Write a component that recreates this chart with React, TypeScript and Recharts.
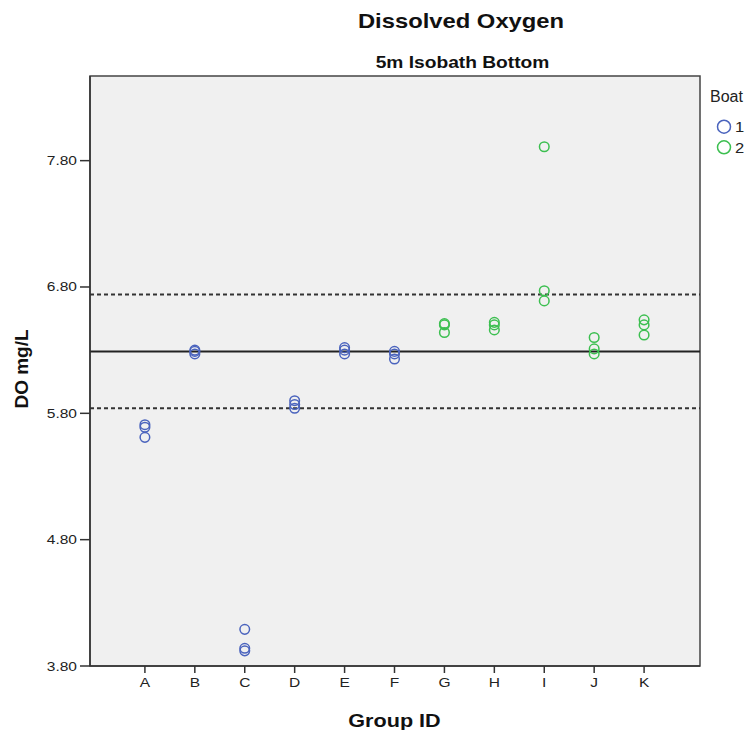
import React from "react";
import { ScatterChart, Scatter, XAxis, YAxis, ReferenceArea, ReferenceLine } from "recharts";

const groups = ["A", "B", "C", "D", "E", "F", "G", "H", "I", "J", "K"];
const boat1Groups = ["A", "B", "C", "D", "E", "F"];
const boat1Values = [
  [5.71, 5.69, 5.61],
  [6.3, 6.29, 6.27],
  [4.09, 3.94, 3.92],
  [5.9, 5.87, 5.84],
  [6.32, 6.3, 6.27],
  [6.29, 6.27, 6.23],
];
const boat2Groups = ["G", "H", "I", "J", "K"];
const boat2Values = [
  [6.51, 6.5, 6.44],
  [6.52, 6.5, 6.46],
  [7.91, 6.77, 6.69],
  [6.4, 6.31, 6.27],
  [6.54, 6.5, 6.42],
];
const yTicks = [3.8, 4.8, 5.8, 6.8, 7.8];
const meanLine = 6.29;
const upperLine = 6.74;
const lowerLine = 5.84;
const legendLabels = ["1", "2"];

const BLUE = "#4a63bd";
const GREEN = "#3cbf50";
const FONT = "'Liberation Sans', Arial, sans-serif";

function toPoints(gs: string[], vals: number[][]) {
  const out: { x: number; y: number }[] = [];
  gs.forEach((g, i) => {
    vals[i].forEach((v) => out.push({ x: groups.indexOf(g), y: v }));
  });
  return out;
}
const boat1 = toPoints(boat1Groups, boat1Values);
const boat2 = toPoints(boat2Groups, boat2Values);

const makeShape = (color: string) => (props: any) => (
  <circle cx={props.cx} cy={props.cy} r={4.8} fill="none" stroke={color} strokeWidth={1.5} />
);

const XTick = (props: any) => {
  const { x, y, payload } = props;
  return (
    <text transform={`translate(${x},${y + 12}) scale(1.15,1)`} textAnchor="middle" fontFamily={FONT} fontSize={13.5} fill="#222">
      {groups[payload.value]}
    </text>
  );
};
const YTick = (props: any) => {
  const { x, y, payload } = props;
  return (
    <text transform={`translate(${x - 1},${y + 4.5}) scale(1.15,1)`} textAnchor="end" fontFamily={FONT} fontSize={13.5} fill="#222">
      {Number(payload.value).toFixed(2)}
    </text>
  );
};

export default function App() {
  return (
    <div style={{ position: "relative", width: 745, height: 722 }}>
      <ScatterChart width={745} height={722} margin={{ top: 68, right: 53, bottom: 34, left: 22 }}>
        <XAxis
          type="number"
          dataKey="x"
          domain={[-1.1, 11.12]}
          ticks={[0, 1, 2, 3, 4, 5, 6, 7, 8, 9, 10]}
          allowDataOverflow
          height={30}
          tickSize={7}
          tick={<XTick />}
          axisLine={{ stroke: "#333", strokeWidth: 1.5 }}
          tickLine={{ stroke: "#333", strokeWidth: 1.5 }}
        />
        <YAxis
          type="number"
          dataKey="y"
          domain={[3.8, 8.47]}
          ticks={yTicks}
          allowDataOverflow
          width={60}
          tickSize={10}
          tick={<YTick />}
          axisLine={{ stroke: "#333", strokeWidth: 1.5 }}
          tickLine={{ stroke: "#333", strokeWidth: 1.5 }}
        />
        <ReferenceArea x1={-1.1} x2={11.12} y1={3.8} y2={8.47} fill="#f0f0f0" fillOpacity={1} stroke="#444" strokeWidth={1.5} />
        <ReferenceLine y={upperLine} stroke="#333" strokeWidth={2} strokeDasharray="4 3" />
        <ReferenceLine y={meanLine} stroke="#222" strokeWidth={2} />
        <ReferenceLine y={lowerLine} stroke="#333" strokeWidth={2} strokeDasharray="4 3" />
        <Scatter data={boat1} shape={makeShape(BLUE)} isAnimationActive={false} />
        <Scatter data={boat2} shape={makeShape(GREEN)} isAnimationActive={false} />
      </ScatterChart>
      <svg width={745} height={728} style={{ position: "absolute", left: 0, top: 0, pointerEvents: "none", overflow: "visible" }}>
        <text transform="translate(453,20) scale(1.22,1)" textAnchor="middle" fontFamily={FONT} fontWeight="bold" fontSize={19.5} fill="#111">
          Dissolved Oxygen
        </text>
        <text transform="translate(454.5,60) scale(1.2,1)" textAnchor="middle" fontFamily={FONT} fontWeight="bold" fontSize={16} fill="#111">
          5m Isobath Bottom
        </text>
        <text transform="translate(386.5,719) scale(1.2,1)" textAnchor="middle" fontFamily={FONT} fontWeight="bold" fontSize={18} fill="#111">
          Group ID
        </text>
        <text transform="translate(20,361) rotate(-90)" textAnchor="middle" fontFamily={FONT} fontWeight="bold" fontSize={19} fill="#111">
          DO mg/L
        </text>
        <text transform="translate(702,94)" textAnchor="start" fontFamily={FONT} fontSize={16} fill="#222">
          Boat
        </text>
        {legendLabels.map((l, i) => (
          <g key={l}>
            <circle cx={716} cy={118.7 + i * 20.6} r={6.5} fill="none" stroke={i === 0 ? BLUE : GREEN} strokeWidth={1.5} />
            <text transform={`translate(727,${124 + i * 20.6}) scale(1.1,1)`} fontFamily={FONT} fontSize={15} fill="#222">
              {l}
            </text>
          </g>
        ))}
      </svg>
    </div>
  );
}
